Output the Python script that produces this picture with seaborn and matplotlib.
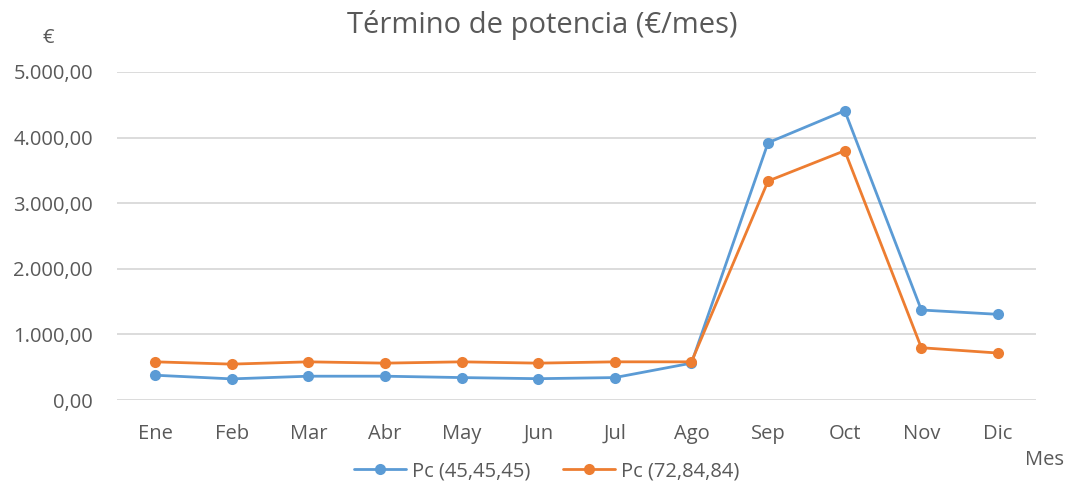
import matplotlib
matplotlib.use("Agg")
import matplotlib.pyplot as plt
import seaborn as sns
import pandas as pd
from matplotlib.ticker import FuncFormatter

months = ["Ene", "Feb", "Mar", "Abr", "May", "Jun", "Jul", "Ago", "Sep", "Oct", "Nov", "Dic"]
pc_45 = [378, 322, 363, 363, 342, 325, 342, 562, 3922, 4410, 1372, 1306]
pc_72 = [582, 547, 582, 562, 582, 562, 582, 582, 3338, 3800, 797, 716]
series_names = ["Pc (45,45,45)", "Pc (72,84,84)"]
colors = ["#5B9BD5", "#ED7D31"]
yticks = [0, 1000, 2000, 3000, 4000, 5000]

df = pd.DataFrame({
    "Mes": months * 2,
    "Valor": pc_45 + pc_72,
    "Serie": [series_names[0]] * 12 + [series_names[1]] * 12,
})

sns.set_theme(style="white")
plt.rcParams["font.family"] = ["Open Sans", "DejaVu Sans"]
txt = "#595959"

fig = plt.figure(figsize=(10.68, 4.88), dpi=100)
ax = fig.add_axes([0.1093, 0.1803, 0.8610, 0.6722])

sns.lineplot(data=df, x="Mes", y="Valor", hue="Serie", palette=colors,
             marker="o", markersize=8, markeredgewidth=0, linewidth=2.0,
             sort=False, ax=ax, legend=True)

ax.set_ylim(0, 5000)
ax.set_xlim(-0.5, 11.5)
ax.set_yticks(yticks)
ax.yaxis.set_major_formatter(FuncFormatter(
    lambda v, p: f"{v:,.2f}".replace(",", "X").replace(".", ",").replace("X", ".")))
ax.grid(axis="y", color="#D9D9D9", linewidth=1.3)
ax.grid(axis="x", visible=False)
for s in ax.spines.values():
    s.set_visible(False)
ax.tick_params(axis="both", length=0, labelsize=14.5, labelcolor=txt)
ax.tick_params(axis="y", pad=17)
ax.tick_params(axis="x", pad=17)
ax.set_xlabel("")
ax.set_ylabel("")

fig.text(0.508, 0.948, "Término de potencia (€/mes)", ha="center", va="center",
         fontsize=21, color=txt)
fig.text(0.045, 0.922, "€", ha="center", va="center", fontsize=14.5, color=txt)
fig.text(0.978, 0.057, "Mes", ha="center", va="center", fontsize=14.5, color=txt)

handles, labels = ax.get_legend_handles_labels()
ax.legend(handles, labels, loc="center", bbox_to_anchor=(0.512, 0.034),
          bbox_transform=fig.transFigure, ncol=2, frameon=False,
          fontsize=14.5, labelcolor=txt, handlelength=2.6, columnspacing=1.6,
          handletextpad=0.3)

fig.savefig("out.png", dpi=100)
